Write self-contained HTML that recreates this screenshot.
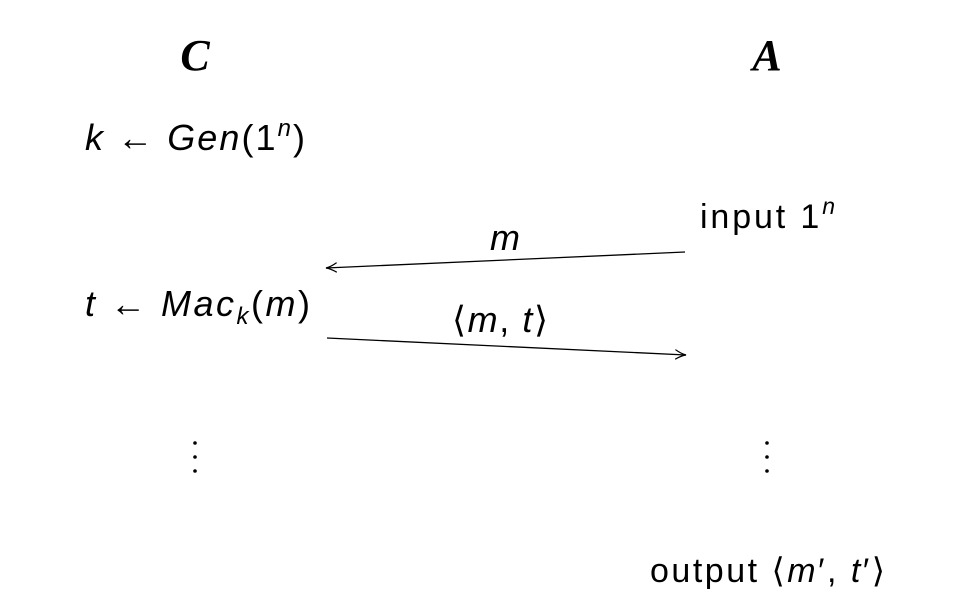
<!DOCTYPE html>
<html><head><meta charset="utf-8"><style>
html,body{margin:0;padding:0;background:#fff;width:957px;height:605px;overflow:hidden}
svg{display:block}
text{font-family:"Liberation Sans","DejaVu Sans",sans-serif;fill:#000}
.i{font-style:italic}
</style></head><body>
<svg width="957" height="605" viewBox="0 0 957 605">
<defs><marker id="ah" markerWidth="12" markerHeight="10" refX="11" refY="5" orient="auto" markerUnits="userSpaceOnUse">
<path d="M0,0 Q6,4 11,5 Q6,6 0,10" fill="none" stroke="#000" stroke-width="1.2"/></marker></defs>

<text x="195" y="70" text-anchor="middle" style="font-family:'Liberation Serif',serif;font-style:italic;font-weight:bold" font-size="44">C</text>
<text x="767" y="70" text-anchor="middle" style="font-family:'Liberation Serif',serif;font-style:italic;font-weight:bold" font-size="44">A</text>

<text x="85" y="150" font-size="36" textLength="220"><tspan class="i">k</tspan> ← <tspan class="i">Gen</tspan>(1<tspan class="i" font-size="24" dy="-14">n</tspan><tspan dy="14">)</tspan></text>

<text x="700" y="228" font-size="34" textLength="135">input 1<tspan class="i" font-size="23" dy="-14">n</tspan></text>

<text x="505" y="250" text-anchor="middle" font-size="36" class="i">m</text>
<line x1="685" y1="252" x2="326" y2="268" stroke="#000" stroke-width="1.3" marker-end="url(#ah)"/>

<text x="85" y="316" font-size="36" textLength="225"><tspan class="i">t</tspan> ← <tspan class="i">Mac</tspan><tspan class="i" font-size="24" dy="8">k</tspan><tspan dy="-8">(</tspan><tspan class="i">m</tspan>)</text>

<text x="452" y="332" font-size="36" textLength="96">⟨<tspan class="i">m</tspan>, <tspan class="i">t</tspan>⟩</text>
<line x1="327" y1="338" x2="686" y2="355" stroke="#000" stroke-width="1.3" marker-end="url(#ah)"/>

<g fill="#000">
<circle cx="195" cy="443" r="1.8"/><circle cx="195" cy="457" r="1.8"/><circle cx="195" cy="471" r="1.8"/></g>
<g fill="#000">
<circle cx="767" cy="443" r="1.8"/><circle cx="767" cy="457" r="1.8"/><circle cx="767" cy="471" r="1.8"/></g>

<text x="650" y="582" font-size="34" textLength="235">output ⟨<tspan class="i">m</tspan>′, <tspan class="i">t</tspan>′⟩</text>
</svg>
</body></html>
